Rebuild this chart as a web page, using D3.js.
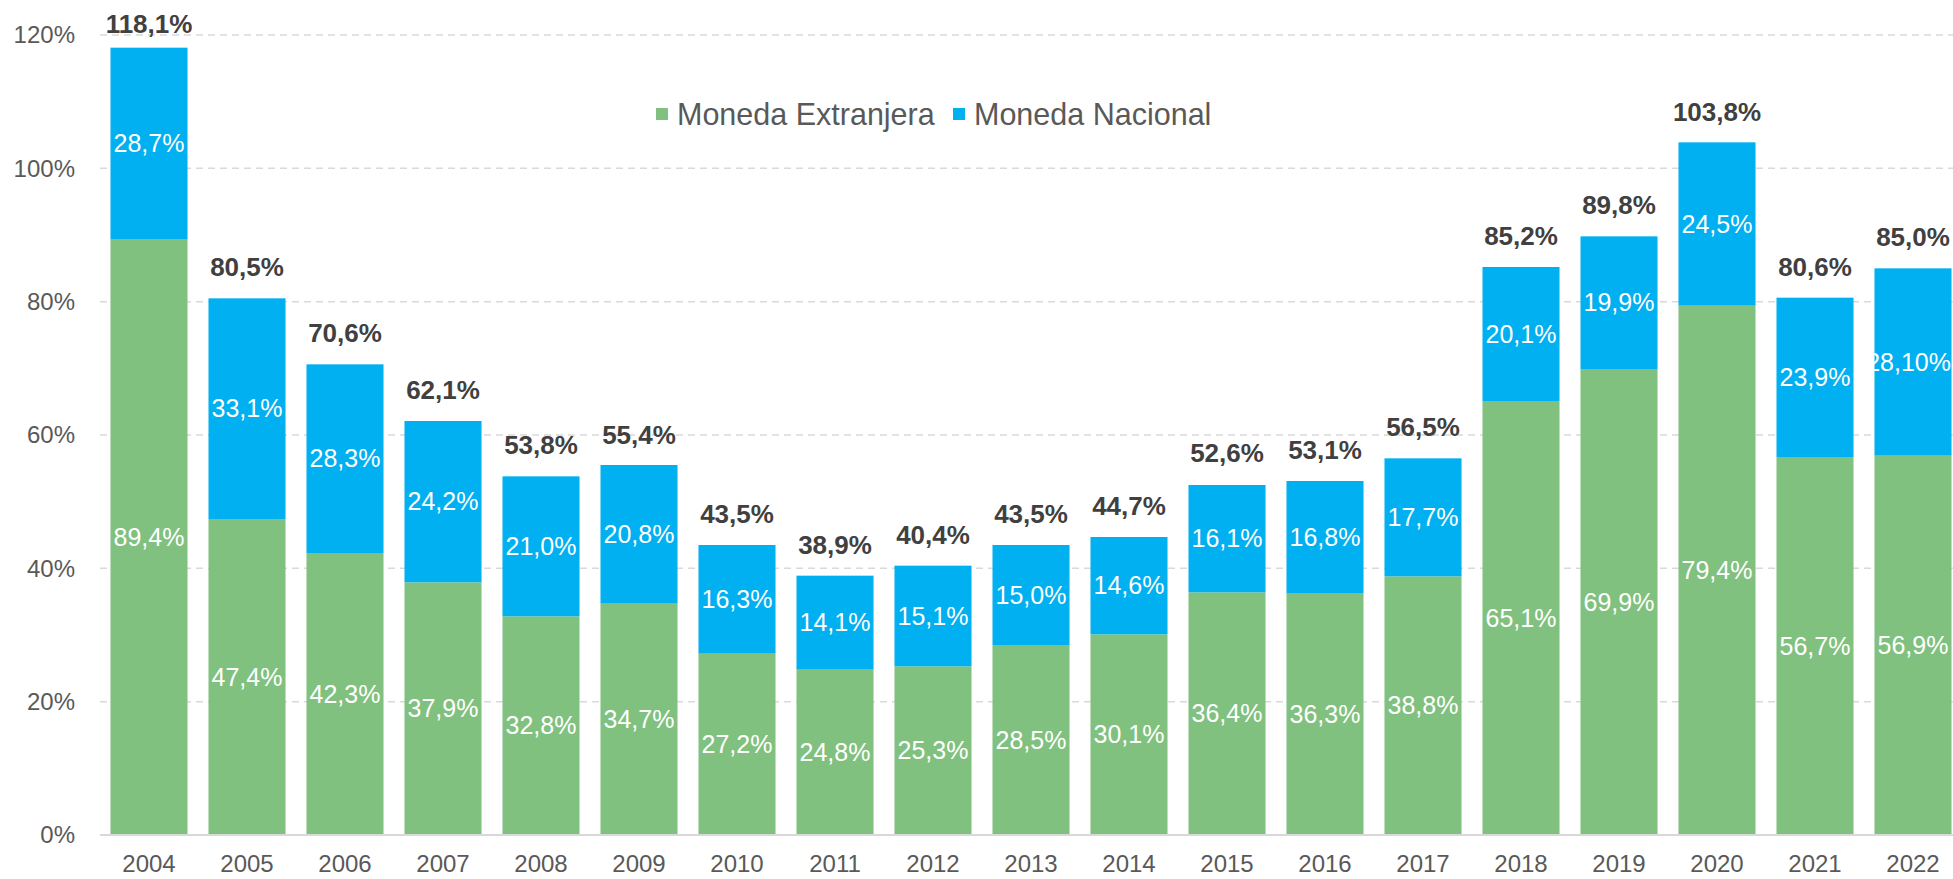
<!DOCTYPE html>
<html>
<head>
<meta charset="utf-8">
<script src="https://cdn.jsdelivr.net/npm/d3@7"></script>
<style>
  body { margin: 0; background: #fff; }
  svg { display: block; font-family: "Liberation Sans", Arial, sans-serif; }
</style>
</head>
<body>
<div id="chart"></div>
<script>
// data
var years = ["2004", "2005", "2006", "2007", "2008", "2009", "2010", "2011", "2012", "2013",
    "2014", "2015", "2016", "2017", "2018", "2019", "2020", "2021", "2022"];
var extranjera = [89.4, 47.4, 42.3, 37.9, 32.8, 34.7, 27.2, 24.8, 25.3, 28.5,
    30.1, 36.4, 36.3, 38.8, 65.1, 69.9, 79.4, 56.7, 56.9];
var nacional = [28.7, 33.1, 28.3, 24.2, 21.0, 20.8, 16.3, 14.1, 15.1, 15.0,
    14.6, 16.1, 16.8, 17.7, 20.1, 19.9, 24.5, 23.9, 28.1];
var nacionalLabels = ["28,7%", "33,1%", "28,3%", "24,2%", "21,0%", "20,8%", "16,3%", "14,1%", "15,1%", "15,0%",
    "14,6%", "16,1%", "16,8%", "17,7%", "20,1%", "19,9%", "24,5%", "23,9%", "28,10%"];
var totals = [118.1, 80.5, 70.6, 62.1, 53.8, 55.4, 43.5, 38.9, 40.4, 43.5,
    44.7, 52.6, 53.1, 56.5, 85.2, 89.8, 103.8, 80.6, 85.0];
var yTicks = [0, 20, 40, 60, 80, 100, 120];
var seriesNames = ["Moneda Extranjera", "Moneda Nacional"];
var seriesColors = ["#81C17F", "#00B0F0"];

var svgWidth = 1953;
var svgHeight = 879;
var margin = { top: 35, right: 0, bottom: 44, left: 100 };
var width = 1862;
var height = svgHeight - margin.top - margin.bottom;

var fmt = function (v) { return v.toFixed(1).replace(".", ",") + "%"; };

var svg = d3.select("#chart")
    .append("svg")
    .attr("width", svgWidth)
    .attr("height", svgHeight);

var chartGroup = svg.append("g")
    .attr("transform", `translate(${margin.left}, ${margin.top})`);

var x = d3.scaleBand()
    .domain(years)
    .range([0, width])
    .paddingInner(0.214)
    .paddingOuter(0.107);

var y = d3.scaleLinear()
    .domain([0, 120])
    .range([height, 0]);

// gridlines
chartGroup.append("g")
    .selectAll("line")
    .data(yTicks.filter(d => d > 0))
    .enter()
    .append("line")
    .attr("x1", 0)
    .attr("x2", width)
    .attr("y1", d => y(d))
    .attr("y2", d => y(d))
    .attr("stroke", "#D9D9D9")
    .attr("stroke-width", 1.5)
    .attr("stroke-dasharray", "7,5");

// y axis labels
var leftAxis = d3.axisLeft(y).tickValues(yTicks).tickSize(0).tickPadding(25)
    .tickFormat(d => d + "%");
chartGroup.append("g")
    .call(leftAxis)
    .call(g => g.select(".domain").remove())
    .selectAll("text")
    .attr("font-size", 24)
    .attr("fill", "#595959");

// stacked data
var rows = years.map((yr, i) => ({ year: yr, ext: extranjera[i], nac: nacional[i], i: i }));
var stacked = d3.stack().keys(["ext", "nac"])(rows);

var layers = chartGroup.selectAll(".layer")
    .data(stacked)
    .enter()
    .append("g")
    .attr("fill", (d, i) => seriesColors[i]);

layers.selectAll("rect")
    .data(d => d)
    .enter()
    .append("rect")
    .attr("x", d => x(d.data.year))
    .attr("width", x.bandwidth())
    .attr("y", d => y(d[1]))
    .attr("height", d => y(d[0]) - y(d[1]));

// baseline
chartGroup.append("line")
    .attr("x1", 0)
    .attr("x2", width)
    .attr("y1", y(0))
    .attr("y2", y(0))
    .attr("stroke", "#D9D9D9")
    .attr("stroke-width", 2);

// segment labels
layers.each(function (layer, li) {
    d3.select(this).selectAll("text")
        .data(layer)
        .enter()
        .append("text")
        .attr("x", d => x(d.data.year) + x.bandwidth() / 2)
        .attr("y", d => y((d[0] + d[1]) / 2))
        .attr("dy", "0.35em")
        .attr("text-anchor", "middle")
        .attr("font-size", 25)
        .attr("fill", "#fff")
        .text(d => li === 0 ? fmt(d.data.ext) : nacionalLabels[d.data.i]);
});

// keep labels inside the picture (last one is wider than its bar)
chartGroup.selectAll("text").each(function () {
    var b = this.getBBox();
    var over = margin.left + b.x + b.width - (svgWidth - 2);
    if (over > 0) d3.select(this).attr("x", +d3.select(this).attr("x") - over);
});

// totals above bars
chartGroup.selectAll(".total")
    .data(rows)
    .enter()
    .append("text")
    .attr("class", "total")
    .attr("x", d => x(d.year) + x.bandwidth() / 2)
    .attr("y", d => Math.max(y(totals[d.i]) - 22, -2))
    .attr("text-anchor", "middle")
    .attr("font-size", 26)
    .attr("font-weight", "bold")
    .attr("fill", "#404040")
    .text(d => fmt(totals[d.i]));

// x axis labels
var bottomAxis = d3.axisBottom(x).tickSize(0).tickPadding(20);
chartGroup.append("g")
    .attr("transform", `translate(0, ${height})`)
    .call(bottomAxis)
    .call(g => g.select(".domain").remove())
    .selectAll("text")
    .attr("font-size", 24)
    .attr("fill", "#595959");

// legend
var legend = svg.append("g").attr("transform", "translate(656, 114)");
var legendX = [0, 297];
seriesNames.forEach(function (name, i) {
    var item = legend.append("g").attr("transform", `translate(${legendX[i]}, 0)`);
    item.append("rect")
        .attr("x", 0)
        .attr("y", -6)
        .attr("width", 12)
        .attr("height", 12)
        .attr("fill", seriesColors[i]);
    item.append("text")
        .attr("x", 21)
        .attr("dy", "0.35em")
        .attr("font-size", 30.5)
        .attr("fill", "#595959")
        .text(name);
});
</script>
</body>
</html>
